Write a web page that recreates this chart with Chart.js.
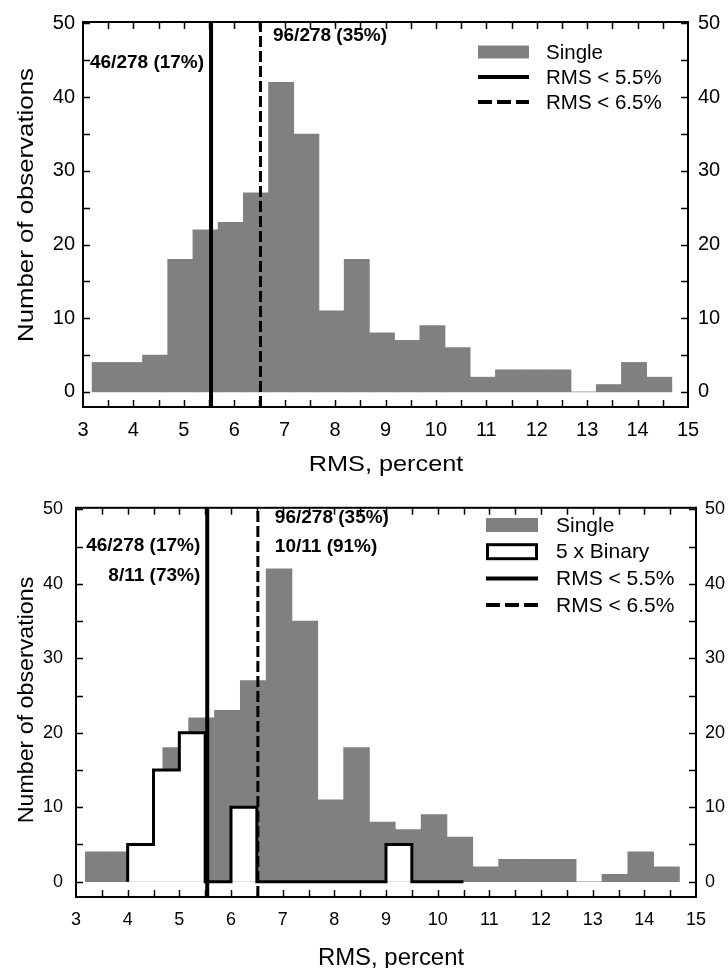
<!DOCTYPE html>
<html>
<head>
<meta charset="utf-8">
<script src="https://cdn.jsdelivr.net/npm/chart.js@4.4.1/dist/chart.umd.min.js"></script>
<style>
  html, body { margin: 0; padding: 0; background: #fff; }
  canvas { display: block; }
</style>
</head>
<body>
<canvas id="topChart" width="728" height="484"></canvas>
<canvas id="bottomChart" width="728" height="484"></canvas>
<script>
// "Single" histogram: bin centres (0.5 wide bins) and counts
const binCenters = [3.43, 3.93, 4.43, 4.93, 5.43, 5.93, 6.43, 6.93, 7.43, 7.93, 8.43, 8.93,
                    9.43, 9.93, 10.43, 10.93, 11.43, 11.93, 12.43, 12.93, 13.43, 13.93, 14.43];
const singleCounts = [4, 4, 5, 18, 22, 23, 27, 42, 35, 11, 18, 8, 7, 9, 6, 2, 3, 3, 3, 0, 1, 4, 2];

// "5 x Binary" histogram: bin edges and counts (already x5)
const binaryEdges = [4.0, 4.5, 5.0, 5.5, 6.0, 6.5, 7.0, 7.5, 8.0, 8.5, 9.0, 9.5, 10.0, 10.5];
const binaryCounts = [5, 15, 20, 0, 10, 0, 0, 0, 0, 0, 5, 0, 0];

// cut lines
const cutSolid = 5.54;
const cutDashed = 6.52;

// axes
const xTickValues = [3, 4, 5, 6, 7, 8, 9, 10, 11, 12, 13, 14, 15];
const yTickValues = [0, 10, 20, 30, 40, 50];
const xMinorStep = 0.5;
const yMinorStep = 5;
const yMin = -2.05;
const yMax = 50.2;

// labels
const xTitle = "RMS, percent";
const yTitle = "Number of observations";
const leftNotesTop = ["46/278 (17%)"];
const rightNotesTop = ["96/278 (35%)"];
const leftNotesBottom = ["46/278 (17%)", "8/11 (73%)"];
const rightNotesBottom = ["96/278 (35%)", "10/11 (91%)"];

Chart.defaults.font.family = "'Liberation Sans', Arial, sans-serif";
Chart.defaults.color = "#000";

const W = 728, H = 484;

// draw text squeezed/stretched along its direction
function stretchedText(ctx, text, x, y, size, stretch, rotate) {
    ctx.save();
    ctx.translate(x, y);
    if (rotate) ctx.rotate(-Math.PI / 2);
    ctx.scale(stretch, 1);
    ctx.font = size + "px 'Liberation Sans', Arial, sans-serif";
    ctx.textAlign = "center";
    ctx.textBaseline = "alphabetic";
    ctx.fillText(text, 0, 0);
    ctx.restore();
}

const decorPlugin = {
    id: "decor",
    afterDatasetsDraw(chart) {
        const { ctx, chartArea: a, scales: { x, y } } = chart;
        ctx.save();
        ctx.strokeStyle = "#000";
        // inner tick marks
        ctx.lineWidth = 1.5;
        ctx.beginPath();
        for (let v = x.min + xMinorStep; v < x.max - 1e-6; v += xMinorStep) {
            const px = Math.round(x.getPixelForValue(v)) + 0.5;
            ctx.moveTo(px, a.bottom); ctx.lineTo(px, a.bottom - 7);
            ctx.moveTo(px, a.top); ctx.lineTo(px, a.top + 7);
        }
        for (let v = 0; v <= yTickValues[yTickValues.length - 1]; v += yMinorStep) {
            const py = Math.round(y.getPixelForValue(v)) + 0.5;
            ctx.moveTo(a.left, py); ctx.lineTo(a.left + 7, py);
            ctx.moveTo(a.right, py); ctx.lineTo(a.right - 7, py);
        }
        ctx.stroke();
        // frame
        ctx.lineWidth = 2;
        ctx.strokeRect(a.left, a.top, a.right - a.left, a.bottom - a.top);
        ctx.restore();
    },
    afterDraw(chart, args, opts) {
        const { ctx, scales: { x } } = chart;
        const L = opts.legend;
        ctx.save();
        ctx.fillStyle = "#000";

        // axis titles
        stretchedText(ctx, xTitle, opts.xTitle.cx, opts.xTitle.base, opts.xTitle.size, opts.xTitle.stretch, false);
        stretchedText(ctx, yTitle, opts.yTitle.base, opts.yTitle.cy, opts.yTitle.size, opts.yTitle.stretch, true);

        // notes beside the cut lines
        ctx.font = "bold " + opts.notes.size + "px 'Liberation Sans', Arial, sans-serif";
        ctx.textBaseline = "middle";
        ctx.textAlign = "right";
        const xl = x.getPixelForValue(cutSolid) - opts.notes.leftGap;
        opts.notes.left.forEach((t, i) => ctx.fillText(t, xl, opts.notes.leftY + i * opts.notes.leftDy));
        ctx.textAlign = "left";
        const xr = x.getPixelForValue(cutDashed) + opts.notes.rightGap;
        opts.notes.right.forEach((t, i) => ctx.fillText(t, xr, opts.notes.rightY + i * opts.notes.rightDy));

        // legend
        chart.data.datasets.forEach((d, i) => {
            const cy = L.y + i * L.dy;
            if (!d.type || d.type === "bar") {
                ctx.fillStyle = d.backgroundColor;
                ctx.fillRect(L.x, cy - L.boxH / 2, L.w, L.boxH);
            } else if (d.fill) {
                ctx.fillStyle = "#fff";
                ctx.fillRect(L.x, cy - 7, L.w, 14);
                ctx.strokeStyle = "#000";
                ctx.lineWidth = 3;
                ctx.strokeRect(L.x + 1.5, cy - 7, L.w - 3, 14);
            } else {
                ctx.strokeStyle = "#000";
                ctx.lineWidth = 4;
                ctx.setLineDash(d.borderDash ? [14, 5] : []);
                ctx.beginPath();
                ctx.moveTo(L.x, cy); ctx.lineTo(L.x + L.w, cy);
                ctx.stroke();
                ctx.setLineDash([]);
            }
            ctx.fillStyle = "#000";
            ctx.font = L.size + "px 'Liberation Sans', Arial, sans-serif";
            ctx.textAlign = "left";
            ctx.textBaseline = "middle";
            ctx.fillText(d.label, L.textX, cy + 1);
        });
        ctx.restore();
    }
};

function makeDatasets(withBinary) {
    const sets = [{
        label: "Single",
        data: binCenters.map((c, i) => ({ x: c, y: singleCounts[i] })),
        backgroundColor: "#808080",
        borderWidth: 0,
        barPercentage: 1,
        categoryPercentage: 1,
        grouped: false,
        order: 4
    }];
    if (withBinary) {
        const pts = [{ x: binaryEdges[0], y: 0 }];
        binaryCounts.forEach((v, i) => pts.push({ x: binaryEdges[i], y: v }));
        pts.push({ x: binaryEdges[binaryEdges.length - 1], y: 0 });
        sets.push({
            type: "line",
            label: "5 x Binary",
            data: pts,
            stepped: true,
            borderColor: "#000",
            borderWidth: 3,
            backgroundColor: "#fff",
            fill: "origin",
            pointRadius: 0,
            borderJoinStyle: "miter",
            order: 3
        });
    }
    sets.push({
        type: "line",
        label: "RMS < 5.5%",
        data: [{ x: cutSolid, y: yMin }, { x: cutSolid, y: yMax }],
        borderColor: "#000",
        borderWidth: 4,
        pointRadius: 0,
        fill: false,
        order: 2
    });
    sets.push({
        type: "line",
        label: "RMS < 6.5%",
        data: [{ x: cutDashed, y: yMin }, { x: cutDashed, y: yMax }],
        borderColor: "#000",
        borderWidth: 3,
        borderDash: [11, 4],
        pointRadius: 0,
        fill: false,
        order: 1
    });
    return sets;
}

function makeChart(id, withBinary, lay) {
    const tickFont = { size: lay.tickSize };
    return new Chart(document.getElementById(id), {
        type: "bar",
        data: { datasets: makeDatasets(withBinary) },
        options: {
            responsive: false,
            animation: false,
            devicePixelRatio: 1,
            layout: { padding: { top: lay.area.top, left: 0, right: 0, bottom: 0 } },
            plugins: {
                legend: { display: false },
                tooltip: { enabled: false },
                decor: lay
            },
            scales: {
                x: {
                    type: "linear",
                    min: 3,
                    max: 15,
                    offset: false,
                    grid: { display: false, drawTicks: false },
                    border: { display: false },
                    ticks: { font: tickFont, padding: lay.xPad, autoSkip: false, maxRotation: 0 },
                    afterBuildTicks: s => { s.ticks = xTickValues.map(v => ({ value: v })); },
                    afterFit: s => { s.height = H - lay.area.bottom; }
                },
                y: {
                    type: "linear",
                    position: "left",
                    min: yMin,
                    max: yMax,
                    grid: { display: false, drawTicks: false },
                    border: { display: false },
                    ticks: { font: tickFont, padding: lay.leftPad },
                    afterBuildTicks: s => { s.ticks = yTickValues.map(v => ({ value: v })); },
                    afterFit: s => { s.width = lay.area.left; }
                },
                y2: {
                    type: "linear",
                    position: "right",
                    min: yMin,
                    max: yMax,
                    grid: { display: false, drawTicks: false },
                    border: { display: false },
                    ticks: { font: tickFont, padding: lay.rightPad },
                    afterBuildTicks: s => { s.ticks = yTickValues.map(v => ({ value: v })); },
                    afterFit: s => { s.width = W - lay.area.right; }
                }
            }
        },
        plugins: [decorPlugin]
    });
}

makeChart("topChart", false, {
    area: { left: 83, right: 688, top: 15, bottom: 407 },
    tickSize: 20, xPad: 11, leftPad: 8, rightPad: 10,
    xTitle: { cx: 386, base: 471, size: 22, stretch: 1.15 },
    yTitle: { cy: 205, base: 33, size: 21.5, stretch: 1.2 },
    legend: { x: 478, w: 51, textX: 546, y: 52, dy: 25, size: 20.5, boxH: 13 },
    notes: { size: 19, left: leftNotesTop, leftGap: 7, leftY: 63, leftDy: 30,
             right: rightNotesTop, rightGap: 12.5, rightY: 36, rightDy: 28 }
});

makeChart("bottomChart", true, {
    area: { left: 76, right: 696, top: 13, bottom: 413 },
    tickSize: 18, xPad: 12, leftPad: 13, rightPad: 9,
    xTitle: { cx: 391, base: 481, size: 23, stretch: 1.04 },
    yTitle: { cy: 216, base: 33, size: 21.5, stretch: 1.08 },
    legend: { x: 486, w: 52, textX: 556, y: 41, dy: 26.7, size: 21, boxH: 14 },
    notes: { size: 19, left: leftNotesBottom, leftGap: 7, leftY: 62, leftDy: 30,
             right: rightNotesBottom, rightGap: 17, rightY: 34, rightDy: 28.7 }
});
</script>
</body>
</html>
